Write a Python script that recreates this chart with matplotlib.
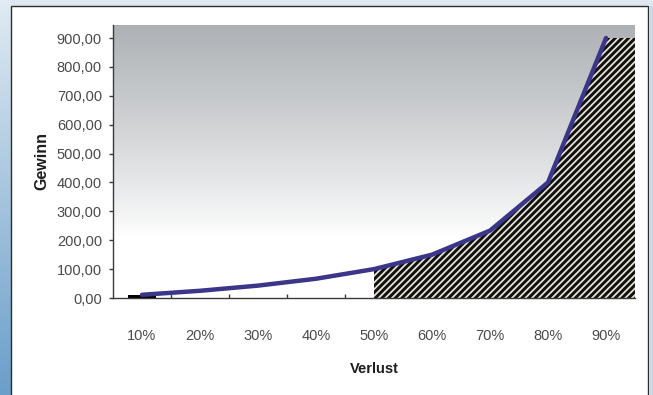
import numpy as np
import matplotlib
matplotlib.use("Agg")
import matplotlib.pyplot as plt
from matplotlib.patches import Rectangle

plt.rcParams['font.family'] = ['Liberation Sans', 'DejaVu Sans']
plt.rcParams['hatch.linewidth'] = 2.1

# Loss percentage and the gain required to recover it
categories = ["10%", "20%", "30%", "40%", "50%", "60%", "70%", "80%", "90%"]
gain = [11.11, 25.0, 42.86, 66.67, 100.0, 150.0, 233.33, 400.0, 900.0]
y_ticks = [0, 100, 200, 300, 400, 500, 600, 700, 800, 900]
y_tick_labels = ["0,00", "100,00", "200,00", "300,00", "400,00",
                 "500,00", "600,00", "700,00", "800,00", "900,00"]
hatch_start = 4  # shaded region begins at 50 %

W, H = 653, 395
fig = plt.figure(figsize=(W / 100, H / 100), dpi=100)
fig.patch.set_facecolor("#dfe8f0")

# Frame background: blue strip on the left, white panel with dark border
bg = fig.add_axes([0, 0, 1, 1], zorder=-10)
bg.set_xlim(0, W)
bg.set_ylim(H, 0)
bg.axis("off")
strip = np.linspace(0, 1, 200)[:, None]
top_c = np.array([0.88, 0.92, 0.95])
bot_c = np.array([0.42, 0.62, 0.79])
strip_rgb = top_c[None, None, :] * (1 - strip[..., None]) + bot_c[None, None, :] * strip[..., None]
bg.imshow(strip_rgb, extent=[0, 11, H, 0], aspect="auto", zorder=0)
bg.add_patch(Rectangle((11, 6), 637, H, facecolor="white",
                       edgecolor="#2e2e2e", linewidth=1.0, zorder=1))
bg.add_patch(Rectangle((648.5, 6), 4.5, H, facecolor="#c9d9e8",
                       edgecolor="none", zorder=1))

ax = fig.add_axes([113 / W, (H - 298) / H, (635 - 113) / W, (298 - 25) / H])
ax.set_facecolor("none")
x = np.arange(len(categories))
ax.set_xlim(-0.5, len(categories) - 0.5)
ax.set_ylim(0, 945)

# Plot-area gradient: grey at top fading to white near the bottom
frac = np.linspace(1, 0, 300)[:, None]
t = np.clip((frac - 0.22) / 0.78, 0, 1) ** 0.9
g_top = np.array([0.68, 0.695, 0.71])
g_bot = np.array([1.0, 1.0, 1.0])
grad = g_bot[None, None, :] * (1 - t[..., None]) + g_top[None, None, :] * t[..., None]
ax.imshow(grad, extent=[-0.5, len(categories) - 0.5, 0, 945],
          aspect="auto", zorder=0, origin="upper")

# Hatched region under the curve from 50 % onwards
hx = list(x[hatch_start:]) + [len(categories) - 0.5]
hy = gain[hatch_start:] + [gain[-1]]
ax.fill_between(hx, 0, hy, facecolor="#e6e2d4", edgecolor="#111111",
                hatch="/////", linewidth=0, zorder=2)

# Small dark bar at the first category
ax.bar(x[0], gain[0], width=0.48, color="black", zorder=3)

# Curve
ax.plot(x, gain, color="#3b3689", linewidth=3.2, solid_capstyle="round", zorder=4)

for s in ["top", "right"]:
    ax.spines[s].set_visible(False)
for s in ["left", "bottom"]:
    ax.spines[s].set_color("#3a3a3a")
    ax.spines[s].set_linewidth(1.0)
    ax.spines[s].set_zorder(5)

ax.set_yticks(y_ticks)
ax.set_yticklabels(y_tick_labels)
ax.tick_params(axis="y", direction="out", length=3, width=1, color="#3a3a3a",
               labelsize=10.5, labelcolor="#4a4a4a", pad=5)
ax.set_xticks(x)
ax.set_xticklabels(categories)
ax.set_xticks(np.arange(0.5, len(categories) - 1, 1.0), minor=True)
ax.tick_params(axis="x", which="major", length=0, labelsize=10.5,
               labelcolor="#4a4a4a", pad=22)
ax.tick_params(axis="x", which="minor", direction="in", length=3, width=1,
               color="#3a3a3a")

ax.set_xlabel("Verlust", fontsize=10.5, fontweight="bold", color="#1e1e1e", labelpad=14)
ax.set_ylabel("Gewinn", fontsize=11.5, fontweight="bold", color="#1e1e1e", labelpad=5)

fig.savefig("out.png", dpi=100)
